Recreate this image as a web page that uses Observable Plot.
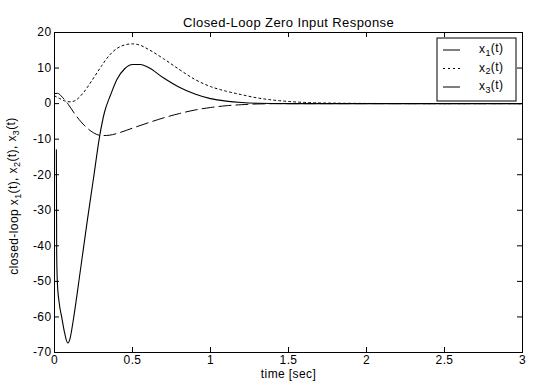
<!DOCTYPE html>
<html>
<head>
<meta charset="utf-8">
<script src="https://cdn.jsdelivr.net/npm/d3@7"></script>
<script src="https://cdn.jsdelivr.net/npm/@observablehq/plot@0.6"></script>
<style>
  html, body { margin: 0; padding: 0; background: #fff; }
  #chart svg { display: block; }
  #chart svg text { letter-spacing: 0.4px; }
</style>
</head>
<body>
<div id="chart"></div>
<script>
// ---- data ----
const title = "Closed-Loop Zero Input Response";
const xLabel = "time [sec]";
const xTicks = [0, 0.5, 1, 1.5, 2, 2.5, 3];
const xTickLabels = ["0", "0.5", "1", "1.5", "2", "2.5", "3"];
const yTicks = [-70, -60, -50, -40, -30, -20, -10, 0, 10, 20];

const seriesNames = ["x1(t)", "x2(t)", "x3(t)"];

const tX1 = [0.012, 0.014, 0.018, 0.03, 0.046, 0.065, 0.085, 0.1, 0.12, 0.164, 0.21, 0.25, 0.29, 0.32, 0.36, 0.4, 0.45, 0.5, 0.55, 0.6, 0.7, 0.8, 0.9, 1.0, 1.1, 1.2, 1.3, 1.5, 2, 2.5, 3];
const x1 = [-13, -42, -50, -56, -60, -64.5, -67.3, -66, -61, -47.5, -33, -21, -9, -2.5, 2.5, 6.8, 9.8, 11, 11, 10.2, 7.2, 4.6, 2.7, 1.4, 0.7, 0.3, 0.1, 0, 0, 0, 0];

const tX2 = [0, 0.03, 0.07, 0.1, 0.13, 0.18, 0.24, 0.3, 0.35, 0.4, 0.45, 0.5, 0.55, 0.6, 0.7, 0.8, 0.9, 1.0, 1.1, 1.2, 1.3, 1.4, 1.5, 1.7, 2.0, 2.5, 3];
const x2 = [2.2, 1.5, 0.7, 0.5, 0.8, 2.8, 6.5, 10.5, 13.5, 15.5, 16.5, 16.8, 16.4, 15.3, 12.6, 9.6, 6.8, 4.8, 3.5, 2.5, 1.6, 1.0, 0.6, 0.2, 0.05, 0, 0];

const tX3 = [0, 0.02, 0.05, 0.09, 0.13, 0.2, 0.25, 0.3, 0.35, 0.4, 0.5, 0.6, 0.7, 0.8, 0.9, 1.0, 1.1, 1.2, 1.3, 1.5, 2, 2.5, 3];
const x3 = [2.8, 2.9, 1.8, -0.3, -2.9, -6.5, -8.2, -9, -8.9, -8.4, -6.9, -5.4, -4, -2.8, -1.8, -1.1, -0.6, -0.3, -0.1, 0, 0, 0, 0];

// ---- build rows ----
const rows = [
  ...tX1.map((t, i) => ({t, v: x1[i], s: seriesNames[0]})),
  ...tX2.map((t, i) => ({t, v: x2[i], s: seriesNames[1]})),
  ...tX3.map((t, i) => ({t, v: x3[i], s: seriesNames[2]}))
];

const W = 537, H = 385;
const mL = 54, mR = 15, mT = 32, mB = 33;
const plotW = W - mL - mR, plotH = H - mT - mB;
const font = "'Liberation Sans', Arial, Helvetica, sans-serif";
const tickLen = 5;

const chart = Plot.plot({
  width: W,
  height: H,
  marginLeft: mL,
  marginRight: mR,
  marginTop: mT,
  marginBottom: mB,
  style: {fontFamily: font, fontSize: "12px", color: "black", background: "white", overflow: "visible"},
  x: {domain: [0, 3]},
  y: {domain: [-70, 20]},
  marks: [
    Plot.axisX({ticks: xTicks, tickSize: 0, tickPadding: 3, tickFormat: (d, i) => xTickLabels[i], label: null, fill: "black"}),
    Plot.axisY({ticks: yTicks, tickSize: 0, tickPadding: 3, tickFormat: d => String(d), label: null, fill: "black"}),
    // inward ticks on all four sides
    Plot.tickX(xTicks, {x: d => d, insetTop: plotH - tickLen, stroke: "black"}),
    Plot.tickX(xTicks, {x: d => d, insetBottom: plotH - tickLen, stroke: "black"}),
    Plot.tickY(yTicks, {y: d => d, insetRight: plotW - tickLen, stroke: "black"}),
    Plot.tickY(yTicks, {y: d => d, insetLeft: plotW - tickLen, stroke: "black"}),
    Plot.line(rows.filter(d => d.s === seriesNames[0]), {x: "t", y: "v", stroke: "black", strokeWidth: 1.1, curve: "monotone-x"}),
    Plot.line(rows.filter(d => d.s === seriesNames[1]), {x: "t", y: "v", stroke: "black", strokeWidth: 1, strokeDasharray: "2,3", curve: "monotone-x"}),
    Plot.line(rows.filter(d => d.s === seriesNames[2]), {x: "t", y: "v", stroke: "black", strokeWidth: 1, strokeDasharray: "12,5", curve: "monotone-x"}),
    Plot.frame({stroke: "black", strokeWidth: 1}),
    Plot.text([title], {text: d => d, frameAnchor: "top", dy: -15, fontSize: 13, fill: "black"}),
    Plot.text([xLabel], {text: d => d, frameAnchor: "bottom", dy: 25.5, fontSize: 12, fill: "black"})
  ]
});

document.getElementById("chart").appendChild(chart);

// ---- rich text: y label with subscripts, and legend ----
const svg = d3.select(chart);

function subText(sel, parts) {
  parts.forEach(([txt, sub], i) => {
    const ts = sel.append("tspan").text(txt);
    if (sub) ts.attr("dy", "0.3em").attr("font-size", "9px");
    else if (i > 0 && parts[i - 1][1]) ts.attr("dy", "-0.3em");
  });
}

const yl = svg.append("text")
  .attr("transform", `translate(18,${mT + plotH / 2 + 4}) rotate(-90)`)
  .attr("text-anchor", "middle")
  .attr("font-size", "12px")
  .attr("fill", "black");
subText(yl, [["closed-loop x", false], ["1", true], ["(t), x", false], ["2", true], ["(t), x", false], ["3", true], ["(t)", false]]);

const lg = svg.append("g").attr("transform", "translate(437,38)");
lg.append("rect").attr("width", 79).attr("height", 63).attr("fill", "white").attr("stroke", "black");
const dashes = [null, "2,3", null];
seriesNames.forEach((name, i) => {
  const yy = 12 + i * 18.5;
  const ln = lg.append("line").attr("x1", 6).attr("x2", 23).attr("y1", yy).attr("y2", yy)
    .attr("stroke", "black").attr("stroke-width", 1);
  if (dashes[i]) ln.attr("stroke-dasharray", dashes[i]);
  const tx = lg.append("text").attr("x", 42).attr("y", yy + 3)
    .attr("text-anchor", "start").attr("font-size", "12px").attr("fill", "black");
  subText(tx, [["x", false], [String(i + 1), true], ["(t)", false]]);
});
</script>
</body>
</html>
